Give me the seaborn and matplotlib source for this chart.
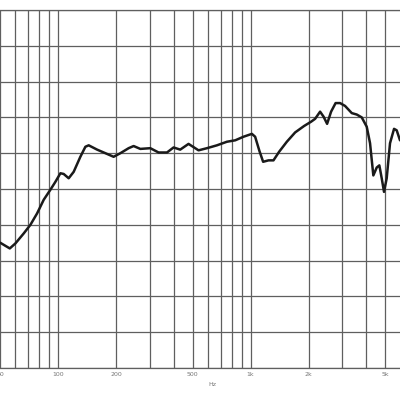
import numpy as np
import pandas as pd
import seaborn as sns
import matplotlib.pyplot as plt
from matplotlib.ticker import FixedLocator, NullFormatter

# frequency response (Hz, dB)
freq = [50, 56.1, 60.0, 66.3, 71.8, 77.8, 84.2, 91.2, 96.8, 102.8, 106.9, 113.5,
        120.5, 130.5, 138.6, 144.2, 159.4, 179.6, 194.3, 210.6, 232.5, 246.8,
        267.4, 301.3, 332.7, 367.9, 398, 431, 476, 536.6, 593.3, 668.6, 753.4,
        832, 918.9, 1015.6, 1056, 1112, 1162, 1239, 1315, 1407, 1543, 1704,
        1897, 2063, 2164, 2297, 2395, 2498, 2620, 2765, 2917, 3097, 3356, 3562,
        3781, 4013, 4175, 4343, 4523, 4667, 4801, 4935, 5096, 5303, 5564, 5743,
        5975]
spl = [67.5, 66.7, 67.4, 68.8, 70.0, 71.6, 73.5, 74.9, 76.0, 77.2, 77.1, 76.5,
       77.4, 79.5, 80.9, 81.1, 80.5, 79.9, 79.5, 80.0, 80.7, 81.0,
       80.6, 80.7, 80.1, 80.1, 80.8, 80.5, 81.3, 80.4, 80.7, 81.1, 81.6,
       81.8, 82.3, 82.7, 82.3, 80.3, 78.8, 79.0, 79.0, 80.2, 81.6, 82.9,
       83.8, 84.4, 84.8, 85.8, 85.1, 84.1, 85.8, 87.0, 87.0, 86.6, 85.6, 85.4,
       85.0, 83.7, 81.4, 76.9, 78.0, 78.3, 76.5, 74.6, 76.5, 81.4, 83.4, 83.2,
       81.8]

major_hz = [50, 100, 200, 500, 1000, 2000, 5000]
major_lbl = ['50', '100', '200', '500', '1k', '2k', '5k']
minor_hz = [60, 70, 80, 90, 300, 400, 600, 700, 800, 900, 3000, 4000, 6000]
db_lines = np.arange(50, 101, 5)

df = pd.DataFrame({'Hz': freq, 'dB': spl})

sns.set_style('white')
fig = plt.figure(figsize=(4, 4), dpi=100)
ax = fig.add_axes([0, 0.08, 1.0, 0.895])

sns.lineplot(data=df, x='Hz', y='dB', ax=ax, color='#1a1a1a', linewidth=1.8)

ax.set_xscale('log')
ax.set_xlim(49.9, 5975)
ax.set_ylim(50, 100)

ax.xaxis.set_major_locator(FixedLocator(major_hz))
ax.set_xticklabels(major_lbl)
ax.xaxis.set_minor_locator(FixedLocator(minor_hz))
ax.xaxis.set_minor_formatter(NullFormatter())
ax.set_yticks(db_lines)
ax.set_yticklabels([])

ax.grid(True, which='both', axis='x', color='#5f5f5f', linewidth=0.9)
ax.grid(True, which='major', axis='y', color='#5f5f5f', linewidth=0.9)
ax.tick_params(axis='both', which='both', length=0)
ax.tick_params(axis='x', labelsize=4.5, labelcolor='#777777', pad=3)

for s in ['left', 'right']:
    ax.spines[s].set_visible(False)
for s in ['top', 'bottom']:
    ax.spines[s].set_color('#5f5f5f')
    ax.spines[s].set_linewidth(0.9)

ax.set_xlabel('')
ax.set_ylabel('')
fig.text(0.53, 0.038, 'Hz', fontsize=4.5, color='#777777', ha='center', va='center')

fig.savefig('out.png', dpi=100)
